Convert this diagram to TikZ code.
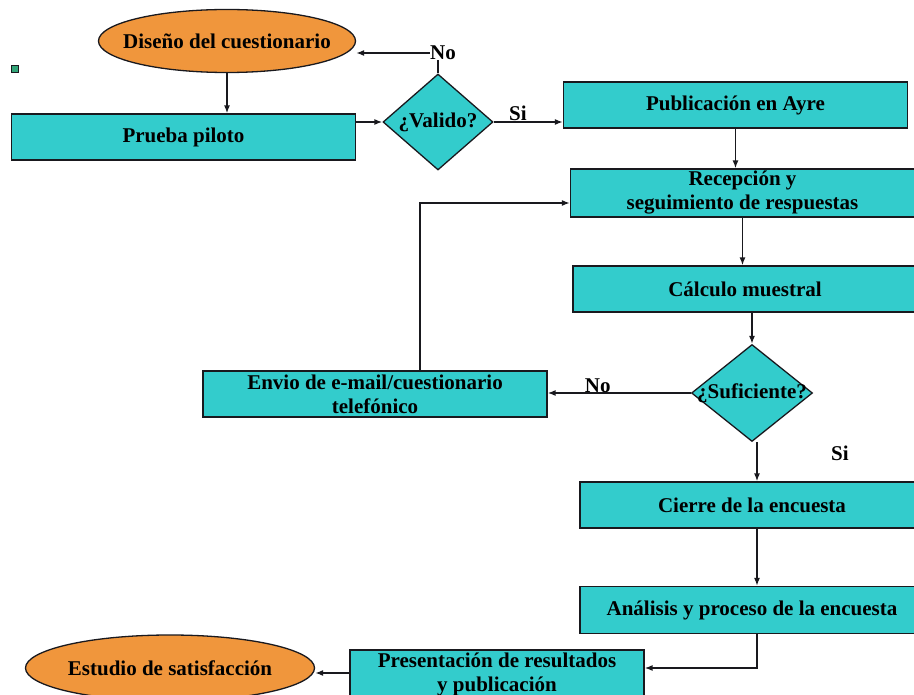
\documentclass[tikz,border=0pt]{standalone}
\usepackage{fontspec}
\setmainfont{Liberation Serif}
\usetikzlibrary{shapes.geometric, arrows.meta}

\definecolor{cajaturq}{RGB}{51,204,204}
\definecolor{elipnar}{RGB}{240,150,60}
\definecolor{marcaverde}{RGB}{50,165,120}
\definecolor{borde}{RGB}{25,25,30}

\begin{document}
\begin{tikzpicture}[x=1pt, y=-1pt,
    font=\bfseries\fontsize{21}{24}\selectfont,
    caja/.style={rectangle, draw=borde, line width=1.3pt, fill=cajaturq, minimum width=344pt, minimum height=46pt, align=center, inner sep=1pt},
    terminal/.style={ellipse, draw=borde, line width=1.3pt, fill=elipnar, minimum width=#1, minimum height=63pt},
    decision/.style={diamond, draw=borde, line width=1.3pt, fill=cajaturq, minimum width=#1, minimum height=96pt, inner sep=0pt},
    flecha/.style={-{Latex[length=8pt,width=6pt]}, line width=1.4pt, draw=borde},
    linea/.style={line width=1.4pt, draw=borde}
    ]
    \useasboundingbox (0,0) rectangle (914,695);
    \fill[white] (0,0) rectangle (914,695);
    \clip (0,0) rectangle (914,695);

    %Nodes
    \node[terminal=257pt, label={center:Diseño del cuestionario}] at (227, 41) (diseno) {};
    \node[draw=borde, fill=marcaverde, minimum size=7pt, inner sep=0pt] at (15, 69) (marca) {};
    \node[caja] at (183.5, 137) (piloto) {Prueba piloto};
    \node[decision=110pt, label={center:¿Valido?}] at (438, 122) (valido) {};
    \node[inner sep=0pt] at (443, 53) (noA) {No};
    \node[caja] at (735.5, 105) (publicacion) {Publicación en Ayre};
    \node[caja, minimum height=48pt] at (742.5, 193) (recepcion) {Recepción y\\seguimiento de respuestas};
    \node[caja] at (745, 289) (calculo) {Cálculo muestral};
    \node[decision=121pt, minimum height=97pt, label={center:¿Suficiente?}] at (752, 393) (suficiente) {};
    \node[caja] at (375, 394) (envio) {Envio de e-mail/cuestionario\\telefónico};
    \node at (840, 453) (siB) {Si};
    \node[caja] at (752, 505) (cierre) {Cierre de la encuesta};
    \node[caja, minimum height=47pt] at (752, 610) (analisis) {Análisis y proceso de la encuesta};
    \node[caja, minimum width=294pt, minimum height=48pt] at (497, 674) (presentacion) {Presentación de resultados\\y publicación};
    \node[terminal=289pt, minimum height=66pt, label={center:Estudio de satisfacción}] at (170, 668) (estudio) {};

    %Lines
    \draw[flecha] (diseno.south) -- (diseno.south |- piloto.north);
    \draw[flecha] (valido.west -| piloto.east) -- (valido.west);
    \draw[linea] (valido.north) -- (valido.north |- noA.south);
    \draw[flecha] (noA.west) -- (noA.west -| diseno.east);
    \draw[flecha] (valido.east) -- node[above, inner sep=1pt, pos=0.35] (siA) {Si} (valido.east -| publicacion.west);
    \draw[flecha] (publicacion.south) -- (publicacion.south |- recepcion.north);
    \draw[flecha] (recepcion.south) -- (recepcion.south |- calculo.north);
    \draw[flecha] (suficiente.north |- calculo.south) -- (suficiente.north);
    \draw[flecha] (suficiente.west) -- node[above, inner sep=0pt, pos=0.65] (noB) {No} (suficiente.west -| envio.east);
    \draw[flecha] ([xshift=45pt]envio.north) |- ([yshift=-10pt]recepcion.west);
    \draw[flecha] ([xshift=5pt]suficiente.south) -- ([xshift=5pt]suficiente.south |- cierre.north);
    \draw[flecha] ([xshift=5pt]cierre.south) -- ([xshift=5pt]cierre.south |- analisis.north);
    \draw[flecha] ([xshift=5pt]analisis.south) |- ([yshift=6pt]presentacion.east);
    \draw[flecha] (presentacion.west |- 0,673) -- (estudio.east |- 0,673);
\end{tikzpicture}
\end{document}
